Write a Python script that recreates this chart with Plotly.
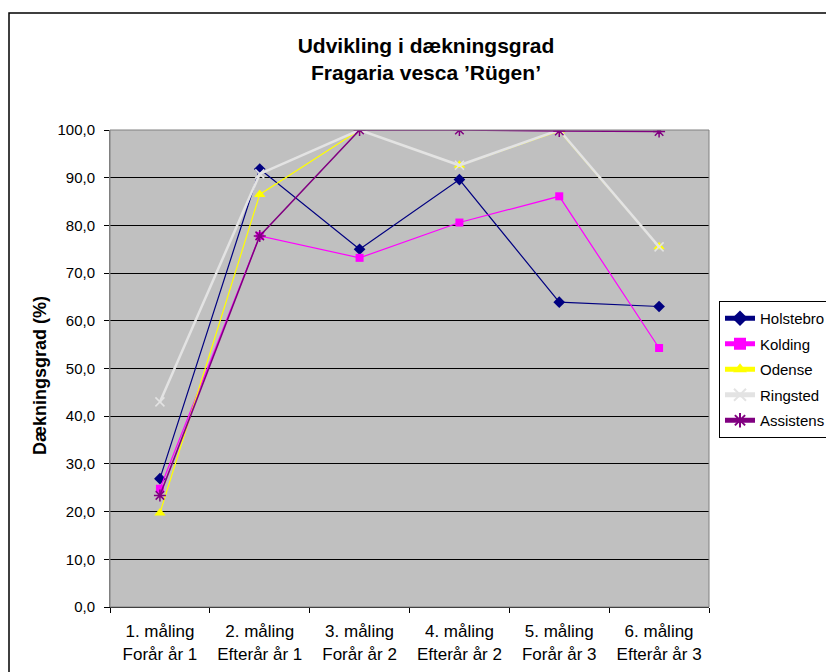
import plotly.graph_objects as go

categories = ["1. måling<br>Forår år 1", "2. måling<br>Efterår år 1", "3. måling<br>Forår år 2",
              "4. måling<br>Efterår år 2", "5. måling<br>Forår år 3", "6. måling<br>Efterår år 3"]
holstebro = [26.9, 91.8, 75.0, 89.6, 63.9, 63.0]
kolding = [24.8, 77.8, 73.2, 80.6, 86.1, 54.3]
odense = [19.7, 86.5, 100.0, 92.6, 99.8, 75.5]
ringsted = [43.0, 90.8, 100.0, 92.6, 100.0, 75.5]
assistens = [23.4, 77.8, 100.0, 100.0, 99.8, 99.7]

FONT = "Liberation Sans, Arial, sans-serif"

series = [
    ("Holstebro", holstebro, "#000080", "diamond", 9, 1.2),
    ("Kolding", kolding, "#FF00FF", "square", 8, 1.2),
    ("Odense", odense, "#FFFF00", "triangle-up", 10, 1.2),
    ("Ringsted", ringsted, "#E3E3E3", "x-thin-open", 9, 2.5),
    ("Assistens", assistens, "#800080", "asterisk-open", 10, 1.5),
]

fig = go.Figure()
for name, vals, color, sym, size, lw in series:
    fig.add_trace(go.Scatter(
        x=categories, y=vals, name=name, mode="lines+markers", legendgroup=name,
        line=dict(color=color, width=lw),
        marker=dict(symbol=sym, size=size, color=color,
                    line=dict(color=color, width=1.5 if "open" in sym else 0)),
    ))

OFF = 8  # page body margin offset
L, T, B = 110 - OFF, 130 - OFF, 607 - OFF
W = 599
H = B - T

def px_x(px):
    return (px - OFF - L) / W

def px_y(py):
    return (B - (py - OFF)) / H

fig.update_layout(
    width=834, height=672,
    margin=dict(l=L, r=834 - L - W, t=T, b=672 - B, autoexpand=False),
    paper_bgcolor="white", plot_bgcolor="#C0C0C0",
    separators=",.",
    font=dict(family=FONT, color="black", size=13),
    title=dict(text="<b>Udvikling i dækningsgrad<br>Fragaria vesca ’Rügen’</b>",
               x=(426 - OFF) / 834, xanchor="center", xref="container",
               yref="container", y=1 - 45 / 672, yanchor="middle",
               font=dict(family=FONT, size=21, color="black"),
               automargin=False),
    showlegend=True,
    legend=dict(x=px_x(719), y=px_y(301), xanchor="left", yanchor="top",
                bordercolor="black", borderwidth=1, bgcolor="white",
                font=dict(family=FONT, size=15, color="black"),
                itemsizing="constant", tracegroupgap=3),
    xaxis=dict(type="category", range=[-0.5, 5.5], tickson="boundaries",
               ticks="outside", ticklen=5, tickcolor="black", automargin=False,
               showgrid=False, showline=True, linecolor="black", linewidth=1,
               ticklabelstandoff=9,
               tickfont=dict(family=FONT, size=17, color="black")),
    yaxis=dict(range=[0, 100], dtick=10, tickformat=".1f", automargin=False,
               ticks="outside", ticklen=5, tickcolor="black",
               showgrid=True, gridcolor="black", gridwidth=1,
               ticklabelstandoff=6,
               showline=True, linecolor="#808080", linewidth=1, zeroline=False,
               tickfont=dict(family=FONT, size=15, color="black")),
    annotations=[
        dict(text="<b>Dækningsgrad (%)</b>", textangle=-90, showarrow=False,
             xref="paper", yref="paper", x=px_x(40), y=px_y(376),
             xanchor="center", yanchor="middle",
             font=dict(family=FONT, size=18, color="black")),
    ],
    shapes=[
        dict(type="rect", xref="paper", yref="paper", x0=0, x1=1, y0=0, y1=1,
             line=dict(color="#808080", width=1), fillcolor="rgba(0,0,0,0)", layer="above"),
        dict(type="rect", xref="paper", yref="paper",
             x0=px_x(9), x1=px_x(860), y0=px_y(700), y1=px_y(13),
             line=dict(color="black", width=1.5), fillcolor="rgba(0,0,0,0)"),
    ],
)

fig.write_html("out.html")
